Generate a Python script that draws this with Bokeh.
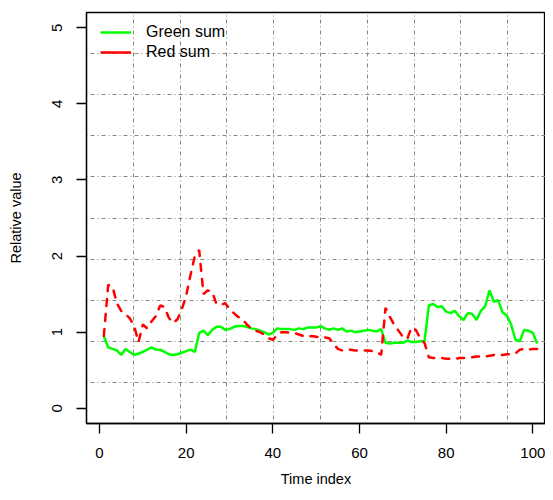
from bokeh.plotting import figure
from bokeh.models import Range1d, FixedTicker, Legend, LegendItem
from bokeh.embed import file_html
from bokeh.resources import INLINE

# ---- data ----
time_index = list(range(1, 102))
green_sum = [0.95, 0.80, 0.78, 0.76, 0.70, 0.78, 0.74, 0.70, 0.72, 0.74,
             0.77, 0.80, 0.77, 0.77, 0.74, 0.71, 0.70, 0.71, 0.73, 0.75,
             0.77, 0.74, 0.99, 1.02, 0.96, 1.03, 1.07, 1.07, 1.03, 1.04,
             1.07, 1.08, 1.08, 1.07, 1.05, 1.04, 1.02, 1.00, 0.97, 0.99,
             1.05, 1.04, 1.04, 1.04, 1.03, 1.05, 1.04, 1.06, 1.06, 1.06,
             1.08, 1.05, 1.03, 1.05, 1.03, 1.05, 1.01, 1.02, 1.00, 1.01,
             1.02, 1.03, 1.02, 1.01, 1.04, 0.86, 0.85, 0.86, 0.86, 0.86,
             0.89, 0.87, 0.87, 0.88, 0.88, 1.35, 1.37, 1.33, 1.34, 1.27,
             1.25, 1.28, 1.21, 1.16, 1.25, 1.24, 1.16, 1.28, 1.34, 1.55,
             1.40, 1.42, 1.26, 1.22, 1.10, 0.90, 0.88, 1.03, 1.02, 0.99,
             0.85]
red_sum = [0.95, 1.62, 1.60, 1.38, 1.28, 1.24, 1.18, 1.08, 0.87, 1.10,
           1.05, 1.14, 1.21, 1.35, 1.33, 1.19, 1.12, 1.17, 1.30, 1.48,
           1.75, 2.00, 2.08, 1.50, 1.55, 1.53, 1.37, 1.36, 1.38, 1.31,
           1.25, 1.20, 1.17, 1.10, 1.05, 1.02, 1.00, 0.97, 0.92, 0.90,
           0.96, 1.00, 1.00, 0.99, 0.99, 0.97, 0.95, 0.94, 0.95, 0.94,
           0.93, 0.93, 0.92, 0.85, 0.78, 0.76, 0.77, 0.77, 0.76, 0.76,
           0.76, 0.76, 0.75, 0.74, 0.70, 1.32, 1.20, 1.10, 1.02, 0.94,
           0.91, 1.06, 1.03, 0.92, 0.86, 0.67, 0.66, 0.66, 0.66, 0.65,
           0.65, 0.65, 0.66, 0.66, 0.67, 0.67, 0.68, 0.68, 0.68, 0.69,
           0.70, 0.70, 0.70, 0.71, 0.71, 0.72, 0.77, 0.78, 0.77, 0.78,
           0.78]
x_ticks = [0, 20, 40, 60, 80, 100]
y_ticks = [0, 1, 2, 3, 4, 5]
y_limits = [0, 5]
series_names = ["Green sum", "Red sum"]
x_title = "Time index"
y_title = "Relative value"

FONT = "Liberation Sans"
GRID_COL = "#8B8878"

W, H = 545, 492
LEFT, TOP, BOTTOM = 86, 12, 69
FRAME_W = W - LEFT
FRAME_H = H - TOP - BOTTOM

# R-style 4% range extension
x_lo = min(time_index) - 0.04 * (max(time_index) - min(time_index))
x_hi = max(time_index) + 0.04 * (max(time_index) - min(time_index))
y_lo = y_limits[0] - 0.04 * (y_limits[1] - y_limits[0])
y_hi = y_limits[1] + 0.04 * (y_limits[1] - y_limits[0])
grid_x = [x_lo + (x_hi - x_lo) * k / 10 for k in range(1, 10)]
grid_y = [y_lo + (y_hi - y_lo) * k / 10 for k in range(1, 10)]
# the original frame was ~468 px wide; only part of it fits the window
x_end = x_lo + (x_hi - x_lo) * FRAME_W / 468.0

p = figure(width=W, height=H, output_backend="svg", toolbar_location=None,
           title=None,
           x_range=Range1d(x_lo, x_end), y_range=Range1d(y_lo, y_hi),
           min_border_left=LEFT, min_border_right=0, min_border_top=TOP,
           min_border_bottom=BOTTOM)
# box round the plotting region (as in the R original)
p.outline_line_color = "black"
p.outline_line_width = 1.3
p.outline_line_alpha = 1.0
p.background_fill_color = "white"
p.border_fill_color = "white"

# grid
p.xgrid.ticker = FixedTicker(ticks=grid_x)
p.ygrid.ticker = FixedTicker(ticks=grid_y)
for g in (p.xgrid, p.ygrid):
    g.grid_line_color = GRID_COL
    g.grid_line_dash = "1 3 4 3"
    g.grid_line_width = 1

# axes
for ax in (p.xaxis, p.yaxis):
    ax.axis_line_color = "black"
    ax.axis_line_width = 1.3
    ax.major_tick_line_color = "black"
    ax.major_tick_line_width = 1.3
    ax.major_tick_out = 10
    ax.major_tick_in = 0
    ax.minor_tick_line_color = None
    ax.major_label_text_font = FONT
    ax.major_label_text_font_size = "15px"
    ax.major_label_text_color = "black"
    ax.axis_label_text_font = FONT
    ax.axis_label_text_font_size = "14.5px"
    ax.axis_label_text_font_style = "normal"
    ax.axis_label_text_color = "black"
    ax.major_label_standoff = 14

p.xaxis.ticker = FixedTicker(ticks=x_ticks)
p.yaxis.ticker = FixedTicker(ticks=y_ticks)
p.xaxis.axis_label = x_title
p.yaxis.axis_label = y_title
p.xaxis.axis_label_standoff = 10
p.yaxis.axis_label_standoff = 26
p.yaxis.major_label_orientation = "vertical"

# series
p.line(time_index, green_sum, line_color="#00FF00", line_width=2.5)
p.line(time_index, red_sum, line_color="#FF0000", line_width=2.5,
       line_dash="7 8", line_cap="round")

# legend proxies (solid lines, nothing drawn in the plot)
nan = float("nan")
lg = p.line([time_index[0]], [nan], line_color="#00FF00", line_width=2.5)
lr = p.line([time_index[0]], [nan], line_color="#FF0000", line_width=2.5)
legend = Legend(items=[LegendItem(label=series_names[0], renderers=[lg]),
                       LegendItem(label=series_names[1], renderers=[lr])],
                location=(14, FRAME_H - 10 - 40), margin=0, padding=0,
                spacing=0, glyph_width=31, glyph_height=20, label_height=20,
                label_standoff=15, border_line_color=None,
                background_fill_alpha=0, label_text_font=FONT,
                label_text_font_size="16px", label_text_color="black",
                label_text_baseline="middle")
p.add_layout(legend, "center")

open("out.html", "w").write(file_html(p, INLINE))
